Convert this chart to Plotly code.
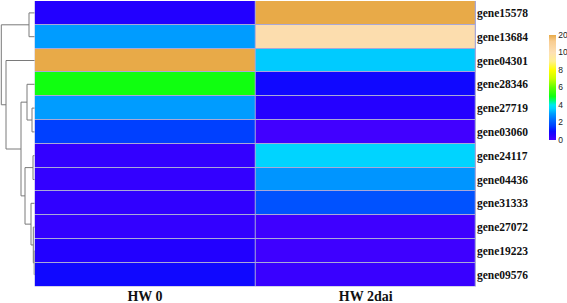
import plotly.graph_objects as go

genes = ["gene15578", "gene13684", "gene04301", "gene28346", "gene27719", "gene03060",
         "gene24117", "gene04436", "gene31333", "gene27072", "gene19223", "gene09576"]
samples = ["HW 0", "HW 2dai"]
hw0 = [0.6, 3.0, 20, 5.0, 3.0, 1.6, 0.3, 0.3, 0.35, 0.3, 0.6, 0.9]
hw2dai = [20, 11, 3.5, 0.9, 0.55, 0.05, 3.6, 2.9, 1.9, 0.1, 0.1, 0.2]

# dendrogram merges (child_a, child_b, height); leaves 0..11, new nodes 12..
merges = [
    (10, 11, 0.5),
    (9, 12, 1.4),
    (6, 7, 1.7),
    (4, 5, 2.7),
    (8, 13, 3.7),
    (0, 1, 5.7),
    (3, 15, 7.7),
    (14, 16, 9.7),
    (18, 19, 13.7),
    (2, 20, 28.7),
    (17, 21, 33.4),
]

cb_ticks = [0, 2, 4, 6, 8, 10, 20]


def tf(v):
    return v if v <= 10 else 10 + (v - 10) * 0.2


TMAX = tf(20)
z = [[tf(a), tf(b)] for a, b in zip(hw0, hw2dai)]

stops = [(0, '#4400ff'), (0.6, '#2200ff'), (1.0, '#0a0aff'), (1.6, '#0040ff'),
         (2.0, '#0058ff'), (3.0, '#009cff'), (3.6, '#00d4ff'), (4.0, '#00e8f0'),
         (4.6, '#00ff60'), (5.0, '#10ff10'), (6.0, '#60ff00'), (7.0, '#c8ff00'),
         (8.0, '#ffff00'), (9.0, '#fff090'), (10.0, '#fde0b4'), (11.3, '#f8cc90'),
         (TMAX, '#e8aa48')]
colorscale = [[t / TMAX, c] for t, c in stops]

fig = go.Figure()
fig.add_trace(go.Heatmap(
    z=z, x=[0, 1], y=list(range(len(genes))),
    zmin=0, zmax=TMAX, colorscale=colorscale, xgap=1, ygap=1,
    colorbar=dict(
        x=549 / 567, xanchor='left', xpad=0, y=1 - 87.5 / 303, yanchor='middle',
        len=105 / 303, lenmode='fraction', thickness=7, ypad=0,
        outlinewidth=0, tickvals=[tf(v) for v in cb_ticks],
        ticktext=[str(v) for v in cb_ticks], ticks='',
        tickfont=dict(family='Liberation Sans, Arial', size=8.5, color='#222')),
    hoverinfo='skip'))

# dendrogram
pos = {i: float(i) for i in range(len(genes))}
hgt = {i: 0.0 for i in range(len(genes))}
xs, ys = [], []
node = len(genes)
for a, b, h in merges:
    xs += [hgt[a], h, h, hgt[b], None]
    ys += [pos[a], pos[a], pos[b], pos[b], None]
    pos[node] = (pos[a] + pos[b]) / 2
    hgt[node] = h
    node += 1
fig.add_trace(go.Scatter(x=xs, y=ys, mode='lines', xaxis='x2', yaxis='y',
                         line=dict(color='#7a7a7a', width=1), hoverinfo='skip',
                         showlegend=False))

fig.add_shape(type='rect', xref='x domain', yref='y domain', x0=0, x1=1, y0=0, y1=1,
              fillcolor='#a8a8d8', line_width=0, layer='below')

serif = 'Times New Roman, Liberation Serif, serif'
fig.update_layout(
    width=567, height=303, margin=dict(l=0, r=0, t=0, b=0),
    paper_bgcolor='white', plot_bgcolor='rgba(0,0,0,0)', showlegend=False,
    xaxis=dict(domain=[34.7 / 567, 476 / 567], range=[-0.5, 1.5], tickvals=[0, 1],
               ticktext=samples, showgrid=False, zeroline=False, showline=False,
               ticks='', automargin=False, ticklabelstandoff=-1,
               tickfont=dict(family=serif, size=14, color='#111', weight='bold')),
    xaxis2=dict(domain=[0, 34.7 / 567], range=[34.7, 0], visible=False,
                showgrid=False, zeroline=False),
    yaxis=dict(domain=[1 - 286.6 / 303, 1 - 1 / 303], range=[11.5, -0.5],
               tickvals=list(range(len(genes))), ticktext=genes, side='right',
               showgrid=False, zeroline=False, showline=False, ticks='',
               automargin=False,
               tickfont=dict(family=serif, size=11.5, color='#111', weight='bold')),
)

fig.write_html("out.html", config={'displayModeBar': False},
               post_script="document.body.style.margin='0';document.body.style.overflow='hidden';")
